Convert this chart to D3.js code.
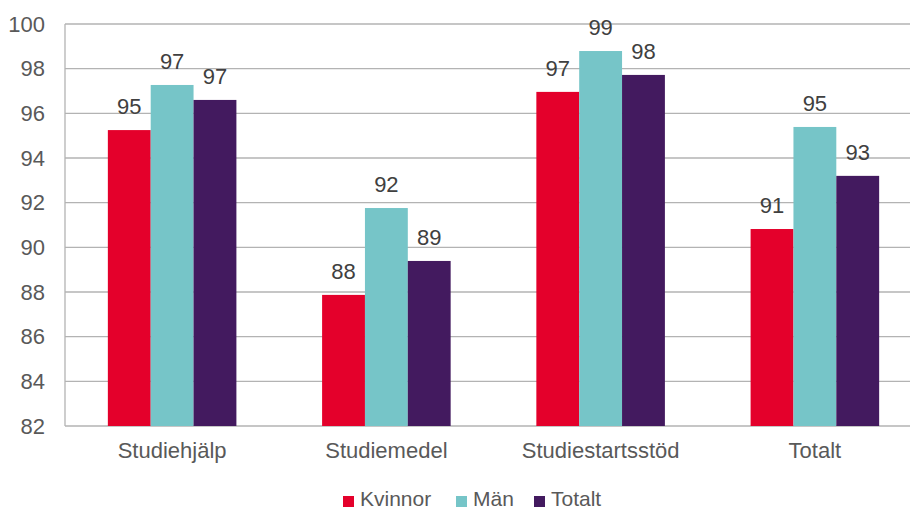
<!DOCTYPE html>
<html><head><meta charset="utf-8">
<script src="https://cdn.jsdelivr.net/npm/d3@7"></script>
<style>body{margin:0;background:#fff}svg{display:block}text{font-family:"Liberation Sans",Arial,sans-serif}</style>
</head><body><svg id="c" width="910" height="511"></svg>
<script>
const categories = ["Studiehjälp","Studiemedel","Studiestartsstöd","Totalt"];
const seriesNames = ["Kvinnor","Män","Totalt"];
const kvinnor = [95.25, 87.87, 96.96, 90.82];
const man = [97.27, 91.76, 98.79, 95.39];
const totalt = [96.6, 89.39, 97.72, 93.2];
const yTicks = [82,84,86,88,90,92,94,96,98,100];
const colors = ["#E4002B","#76C5C8","#431A5F"];
const series = [kvinnor, man, totalt];

(function(){
const svg = d3.select("#c");
const pL = 65, pR = 922, pT = 24, pB = 426;
const x0 = d3.scaleBand().domain(categories).range([pL,pR]).paddingInner(0.4).paddingOuter(0.2);
const x1 = d3.scaleBand().domain(seriesNames).range([0,x0.bandwidth()]);
const y = d3.scaleLinear().domain([82,100]).range([pB,pT]);

svg.append("g").selectAll("line").data(yTicks).join("line")
  .attr("x1",pL).attr("x2",910).attr("y1",d=>y(d)).attr("y2",d=>y(d))
  .attr("stroke","#b3b3b3").attr("stroke-width",1.3);
svg.append("line").attr("x1",pL).attr("x2",pL).attr("y1",pT).attr("y2",pB)
  .attr("stroke","#b3b3b3").attr("stroke-width",1.3);

const yAxis = d3.axisLeft(y).tickValues(yTicks).tickSize(0).tickPadding(20);
const ya = svg.append("g").attr("transform",`translate(${pL},0)`).call(yAxis);
ya.select(".domain").remove();
ya.selectAll("text").attr("font-size",22).attr("fill","#595959").attr("font-family","Liberation Sans, Arial, sans-serif");

const xAxis = d3.axisBottom(x0).tickSize(0).tickPadding(16);
const xa = svg.append("g").attr("transform",`translate(0,${pB})`).call(xAxis);
xa.select(".domain").remove();
xa.selectAll("text").attr("font-size",22).attr("fill","#595959").attr("font-family","Liberation Sans, Arial, sans-serif");

const groups = svg.append("g").selectAll("g").data(categories).join("g")
  .attr("transform",d=>`translate(${x0(d)},0)`);
groups.each(function(cat,ci){
  const g = d3.select(this);
  seriesNames.forEach((s,si)=>{
    const v = series[si][ci];
    g.append("rect").attr("x",x1(s)).attr("width",x1.bandwidth())
      .attr("y",y(v)).attr("height",y(82)-y(v)).attr("fill",colors[si]);
    g.append("text").attr("x",x1(s)+x1.bandwidth()/2).attr("y",y(v)-16)
      .attr("text-anchor","middle").attr("font-size",22).attr("fill","#404040")
      .text(Math.round(v));
  });
});

const legendX = [343,456,534];
const lg = svg.append("g");
seriesNames.forEach((s,i)=>{
  lg.append("rect").attr("x",legendX[i]).attr("y",496).attr("width",11).attr("height",11).attr("fill",colors[i]);
  lg.append("text").attr("x",legendX[i]+17).attr("y",506).attr("font-size",21).attr("fill","#595959").text(s);
});
})();
</script></body></html>
